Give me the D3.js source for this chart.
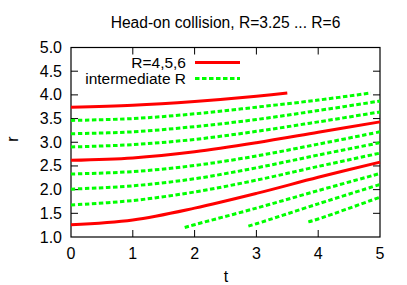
<!DOCTYPE html>
<meta charset="utf-8">
<body>
<script src="https://cdn.jsdelivr.net/npm/d3@7"></script>
<style>
    html, body {
        margin: 0;
        background: #fff;
    }
    text {
        font-family: "Liberation Sans", Arial, sans-serif;
        font-size: 16px;
        fill: #000;
    }
</style>
<script>
var width = 407,
    height = 285,
    margin = {top: 47.5, right: 27, bottom: 48, left: 71};

// [t, r] pairs for each curve
var redCurves = [
    [[0, 3.74], [1, 3.78], [2, 3.86], [3, 3.97], [3.5, 4.04]],
    [[0, 2.62], [1, 2.67], [2, 2.80], [3, 2.99], [4, 3.21], [5, 3.43]],
    [[0, 1.26], [1, 1.36], [2, 1.61], [3, 1.92], [4, 2.26], [5, 2.58]]
];

var greenCurves = [
    [[0, 3.46], [1, 3.50], [2, 3.60], [3, 3.74], [4, 3.89], [4.85, 4.04]],
    [[0, 3.18], [1, 3.22], [2, 3.33], [3, 3.48], [4, 3.67], [5, 3.87]],
    [[0, 2.90], [1, 2.95], [2, 3.06], [3, 3.23], [4, 3.43], [5, 3.64]],
    [[0, 2.33], [1, 2.38], [2, 2.51], [3, 2.71], [4, 2.96], [5, 3.22]],
    [[0, 2.01], [1, 2.08], [2, 2.23], [3, 2.46], [4, 2.73], [5, 2.99]],
    [[0, 1.675], [1, 1.77], [2, 1.95], [3, 2.20], [4, 2.49], [5, 2.77]],
    [[1.84, 1.20], [2, 1.26], [3, 1.61], [4, 1.98], [5, 2.34]],
    [[2.87, 1.23], [3, 1.28], [4, 1.70], [5, 2.11]],
    [[3.84, 1.32], [4, 1.38], [5, 1.84]]
];

var xTicks = [0, 1, 2, 3, 4, 5],
    yTicks = [1.0, 1.5, 2.0, 2.5, 3.0, 3.5, 4.0, 4.5, 5.0];

var legendLabels = ["R=4,5,6", "intermediate R"];

var svg = d3.select("body").append("svg")
    .attr("width", width)
    .attr("height", height);

var x = d3.scaleLinear().domain([0, 5]).range([margin.left, width - margin.right]),
    y = d3.scaleLinear().domain([1, 5]).range([height - margin.bottom, margin.top]);

var tickLen = 7;

// frame
svg.append("rect")
    .attr("x", x(0)).attr("y", y(5))
    .attr("width", x(5) - x(0)).attr("height", y(1) - y(5))
    .attr("fill", "none").attr("stroke", "#000").attr("stroke-width", 1.2);

// inward ticks on all four sides
var ax = svg.append("g")
    .attr("stroke", "#000").attr("stroke-width", 1);

xTicks.slice(1, -1).forEach(function(d) {
    ax.append("line").attr("x1", x(d)).attr("x2", x(d)).attr("y1", y(1)).attr("y2", y(1) - tickLen);
    ax.append("line").attr("x1", x(d)).attr("x2", x(d)).attr("y1", y(5)).attr("y2", y(5) + tickLen);
});
yTicks.slice(1, -1).forEach(function(d) {
    ax.append("line").attr("x1", x(0)).attr("x2", x(0) + tickLen).attr("y1", y(d)).attr("y2", y(d));
    ax.append("line").attr("x1", x(5)).attr("x2", x(5) - tickLen).attr("y1", y(d)).attr("y2", y(d));
});

svg.selectAll(".xl")
    .data(xTicks)
    .enter().append("text")
    .attr("x", function(d) { return x(d); })
    .attr("y", 259)
    .attr("text-anchor", "middle")
    .text(function(d) { return d; });

svg.selectAll(".yl")
    .data(yTicks)
    .enter().append("text")
    .attr("x", 62)
    .attr("y", function(d) { return y(d) + 5.5; })
    .attr("text-anchor", "end")
    .text(function(d) { return d.toFixed(1); });

svg.append("text")
    .attr("x", (x(0) + x(5)) / 2).attr("y", 28)
    .attr("text-anchor", "middle")
    .style("font-size", "15.6px")
    .text("Head-on collision, R=3.25 ... R=6");

svg.append("text")
    .attr("x", 226).attr("y", 282)
    .attr("text-anchor", "middle")
    .text("t");

svg.append("text")
    .attr("transform", "translate(18,139)rotate(-90)")
    .attr("text-anchor", "middle")
    .text("r");

var line = d3.line()
    .x(function(d) { return x(d[0]); })
    .y(function(d) { return y(d[1]); })
    .curve(d3.curveCatmullRom.alpha(0.5));

svg.selectAll(".green")
    .data(greenCurves)
    .enter().append("path")
    .attr("d", line)
    .attr("fill", "none")
    .attr("stroke", "#00ff00")
    .attr("stroke-width", 3)
    .attr("stroke-dasharray", "4.5,2.5");

svg.selectAll(".red")
    .data(redCurves)
    .enter().append("path")
    .attr("d", line)
    .attr("fill", "none")
    .attr("stroke", "#ff0000")
    .attr("stroke-width", 3);

// legend
var legend = svg.selectAll(".leg")
    .data(legendLabels)
    .enter().append("g")
    .attr("transform", function(d, i) { return "translate(0," + (62.5 + i * 16) + ")"; });

legend.append("text")
    .attr("x", 186).attr("y", 5.3)
    .attr("text-anchor", "end")
    .style("font-size", "15.5px")
    .text(function(d) { return d; });

legend.append("line")
    .attr("x1", 195).attr("x2", 240)
    .attr("stroke", function(d, i) { return i ? "#00ff00" : "#ff0000"; })
    .attr("stroke-width", 3)
    .attr("stroke-dasharray", function(d, i) { return i ? "4.5,2.5" : null; });
</script>
